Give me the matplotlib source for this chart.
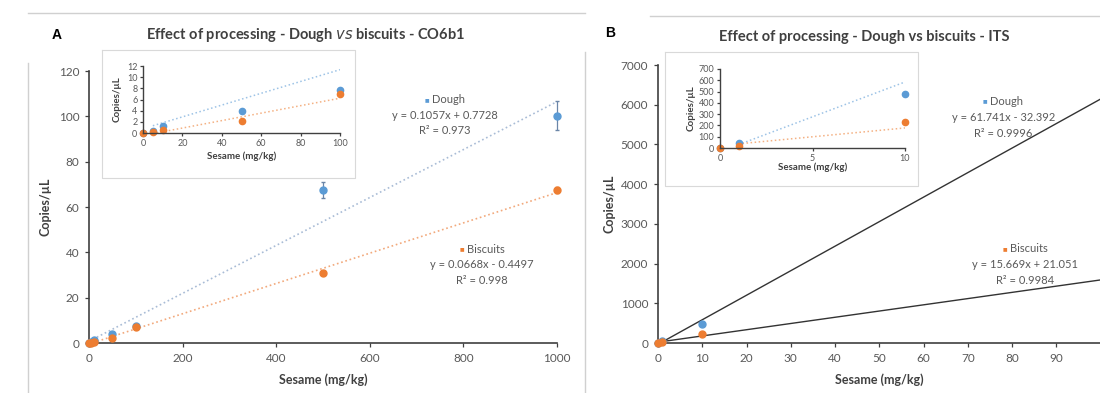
import numpy as np
import matplotlib
matplotlib.use("Agg")
import matplotlib.pyplot as plt
from matplotlib.lines import Line2D

# ---- data ----
# panel A, CO6b1
a_x = [0, 5, 10, 50, 100, 500, 1000]
a_dough = [0.0, 0.4, 1.3, 4.0, 7.7, 67.5, 100.3]
a_dough_err = [0.1, 0.1, 0.2, 0.4, 0.5, 3.5, 6.5]
a_bisc = [0.0, 0.2, 0.6, 2.1, 6.9, 31.0, 67.5]
a_bisc_err = [0.1, 0.1, 0.1, 0.3, 0.4, 0.8, 1.5]
a_fit_dough = (0.1057, 0.7728, 0.973)
a_fit_bisc = (0.0668, -0.4497, 0.998)

# panel B, ITS
b_x = [0, 1, 10]
b_dough = [0.0, 40.0, 480.0]
b_bisc = [0.0, 20.0, 230.0]
b_fit_dough = (61.741, -32.392, 0.9996)
b_fit_bisc = (15.669, 21.051, 0.9984)

BLUE = "#5b9bd5"
ORANGE = "#ed7d31"
GRAY = "#595959"
DARK = "#404040"
FONT = ["Lato", "DejaVu Sans"]

plt.rcParams["font.family"] = FONT

W, H = 1100, 393
fig = plt.figure(figsize=(11, 3.93), dpi=100)
renderer = fig.canvas.get_renderer()


def px_axes(x0, x1, ytop, ybot):
    """axes from pixel box (top-left origin)"""
    return fig.add_axes([x0 / W, 1 - ybot / H, (x1 - x0) / W, (ybot - ytop) / H])


def fig_line(xs, ys, color="#d0d0d0", lw=1.0):
    fig.add_artist(Line2D([x / W for x in xs], [1 - y / H for y in ys],
                          color=color, lw=lw, transform=fig.transFigure))


def style(ax, tsize, lw=1.2, pad=3):
    for s in ["top", "right"]:
        ax.spines[s].set_visible(False)
    for s in ["left", "bottom"]:
        ax.spines[s].set_color(DARK)
        ax.spines[s].set_linewidth(lw)
    ax.tick_params(direction="out", length=3, width=0.9, color=DARK,
                   labelsize=tsize, labelcolor=GRAY, pad=pad)
    ax.patch.set_alpha(0)


def eq_text(ax, x, y, name, color, fit, size=8):
    m, b, r2 = fit
    sign = "+" if b >= 0 else "-"
    t = ax.text(x + 0.008, y, name, color=GRAY, fontsize=size, ha="center",
                va="center", transform=ax.transAxes)
    bb = t.get_window_extent(renderer).transformed(ax.transAxes.inverted())
    ax.text(bb.x0 - 0.006, y, "\u25a0", color=color, fontsize=3.5, ha="right",
            va="center", transform=ax.transAxes)
    ax.text(x, y - 0.058, "y = %gx %s %g" % (m, sign, abs(b)), color=GRAY,
            fontsize=size, ha="center", va="center", transform=ax.transAxes)
    ax.text(x, y - 0.115, "R\u00b2 = %g" % r2, color=GRAY, fontsize=size,
            ha="center", va="center", transform=ax.transAxes)


# panel frames
fig_line([28, 585], [13, 13])
fig_line([28, 28], [63, 393])
fig_line([585, 585], [52, 393])
fig_line([650, 1100], [16, 16])

fig.text(57 / W, 1 - 35 / H, "A", fontsize=10, fontweight="bold",
         family=["Liberation Sans"], ha="center", va="center")
fig.text(610 / W, 1 - 33 / H, "B", fontsize=10, fontweight="bold",
         family=["Liberation Sans"], ha="center", va="center")

fig.text(305 / W, 1 - 35 / H,
         r"Effect of processing - Dough $\mathbf{\mathit{vs}}$ biscuits - CO6b1",
         fontsize=10.5, fontweight="bold", color=DARK, ha="center", va="center")
fig.text(864 / W, 1 - 37 / H, "Effect of processing - Dough vs biscuits - ITS",
         fontsize=10.5, fontweight="bold", color=DARK, ha="center", va="center")

# ---- panel A main ----
ax = px_axes(89, 557, 71, 343)
style(ax, 8.5, pad=4)
xx = np.linspace(0, 1000, 50)
ax.plot(xx, a_fit_dough[0] * xx + a_fit_dough[1], ls=":", color="#a9bcd6", lw=1.2)
ax.plot(xx, a_fit_bisc[0] * xx + a_fit_bisc[1], ls=":", color="#f2a97c", lw=1.2)
ax.errorbar(a_x, a_dough, yerr=a_dough_err, fmt="o", color=BLUE, ms=5,
            elinewidth=0.9, capsize=1.5, ecolor="#6b86a8", clip_on=False, zorder=3)
ax.errorbar(a_x, a_bisc, yerr=a_bisc_err, fmt="o", color=ORANGE, ms=5,
            elinewidth=0.9, capsize=1.5, clip_on=False, zorder=3)
ax.set_xlim(0, 1000)
ax.set_ylim(0, 120)
ax.set_xticks(range(0, 1001, 200))
ax.set_yticks(range(0, 121, 20))
ax.set_xlabel("Sesame (mg/kg)", fontsize=9, fontweight="bold", color=DARK, labelpad=7)
ax.set_ylabel("Copies/\u00b5L", fontsize=9, fontweight="bold", color=DARK, labelpad=5)
eq_text(ax, 0.76, 0.895, "Dough", BLUE, a_fit_dough)
eq_text(ax, 0.84, 0.345, "Biscuits", ORANGE, a_fit_bisc)

# inset A
fig_line([102, 355, 355, 102, 102], [50, 50, 178, 178, 50], color="#d9d9d9", lw=0.8)
fig.add_artist(plt.Rectangle((102 / W, 1 - 178 / H), 253 / W, 128 / H,
                             facecolor="white", edgecolor="none",
                             transform=fig.transFigure, zorder=1))
ia = px_axes(143, 340, 66, 133)
ia.set_zorder(5)
style(ia, 6.5, lw=1.0, pad=2)
xi = np.linspace(5, 100, 30)
ia.plot(xi, a_fit_dough[0] * xi + a_fit_dough[1], ls=":", color="#9dc3e6", lw=1.1)
ia.plot(xi, a_fit_bisc[0] * xi + a_fit_bisc[1], ls=":", color="#f4b183", lw=1.1)
ia.plot(a_x[:5], a_dough[:5], "o", color=BLUE, ms=4.5, clip_on=False)
ia.plot(a_x[:5], a_bisc[:5], "o", color=ORANGE, ms=4.5, clip_on=False)
ia.set_xlim(0, 100)
ia.set_ylim(0, 12)
ia.set_xticks(range(0, 101, 20))
ia.set_yticks(range(0, 13, 2))
ia.tick_params(length=2)
ia.set_xlabel("Sesame (mg/kg)", fontsize=7, fontweight="bold", color=DARK, labelpad=3)
ia.set_ylabel("Copies/\u00b5L", fontsize=7, fontweight="bold", color=DARK, labelpad=4)

# ---- panel B main ----
bx = px_axes(658, 1100.5, 65, 343)
style(bx, 8.5, pad=4)
xb = np.linspace(1, 100, 50)
bx.plot(xb, b_fit_dough[0] * xb + b_fit_dough[1], color="#333333", lw=1.0)
bx.plot(xb, b_fit_bisc[0] * xb + b_fit_bisc[1], color="#333333", lw=1.0)
bx.plot(b_x, b_dough, "o", color=BLUE, ms=5, clip_on=False, zorder=3)
bx.plot(b_x, b_bisc, "o", color=ORANGE, ms=5, clip_on=False, zorder=3)
bx.set_xlim(0, 100)
bx.set_ylim(0, 7000)
xt = list(range(0, 101, 10))
bx.set_xticks(xt)
bx.set_xticklabels([str(v) if v < 100 else "" for v in xt])
bx.set_yticks(range(0, 7001, 1000))
bx.set_xlabel("Sesame (mg/kg)", fontsize=9, fontweight="bold", color=DARK, labelpad=7)
bx.set_ylabel("Copies/\u00b5L", fontsize=9, fontweight="bold", color=DARK, labelpad=4)
eq_text(bx, 0.78, 0.87, "Dough", BLUE, b_fit_dough)
eq_text(bx, 0.83, 0.34, "Biscuits", ORANGE, b_fit_bisc)

# inset B
fig_line([665, 918, 918, 665, 665], [52, 52, 186, 186, 52], color="#d9d9d9", lw=0.8)
fig.add_artist(plt.Rectangle((665 / W, 1 - 186 / H), 253 / W, 134 / H,
                             facecolor="white", edgecolor="none",
                             transform=fig.transFigure, zorder=1))
ib = px_axes(720, 905, 69, 148)
ib.set_zorder(5)
style(ib, 6.5, lw=1.0, pad=2)
xj = np.linspace(1, 10, 20)
ib.plot(xj, b_fit_dough[0] * xj + b_fit_dough[1], ls=":", color="#9dc3e6", lw=1.1)
ib.plot(xj, b_fit_bisc[0] * xj + b_fit_bisc[1], ls=":", color="#f4b183", lw=1.1)
ib.plot(b_x, b_dough, "o", color=BLUE, ms=4.5, clip_on=False)
ib.plot(b_x, b_bisc, "o", color=ORANGE, ms=4.5, clip_on=False)
ib.set_xlim(0, 10)
ib.set_ylim(0, 700)
ib.set_xticks([0, 5, 10])
ib.set_yticks(range(0, 701, 100))
ib.tick_params(length=2)
ib.set_xlabel("Sesame (mg/kg)", fontsize=7, fontweight="bold", color=DARK, labelpad=0)
ib.set_ylabel("Copies/\u00b5L", fontsize=7, fontweight="bold", color=DARK, labelpad=2)

fig.savefig("out.png", dpi=100)
